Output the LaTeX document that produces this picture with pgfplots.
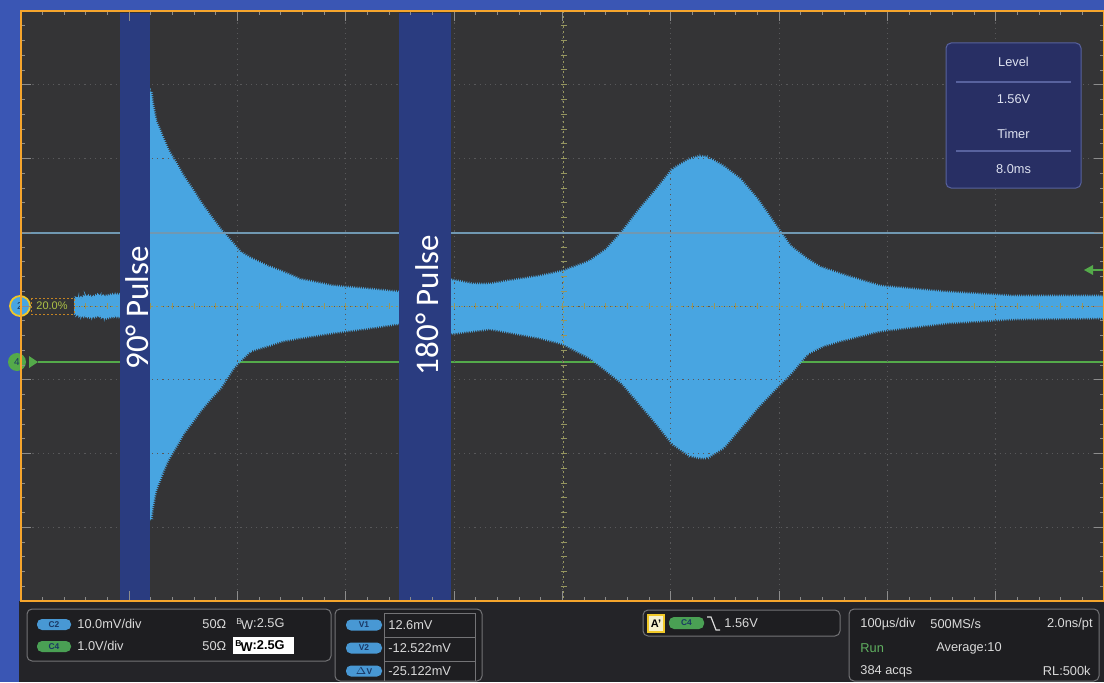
\documentclass[border=0pt]{standalone}
\usepackage{fontspec}
\setmainfont{Liberation Sans}
\newfontfamily\calibri{Carlito}
\usepackage{pgfplots}
\usepackage{pgfplotstable}
\pgfplotsset{compat=1.18}
\usepgfplotslibrary{fillbetween}
\usetikzlibrary{decorations.pathmorphing}

\definecolor{framebg}{RGB}{58,86,180}
\definecolor{statusbg}{RGB}{36,36,40}
\definecolor{screen}{RGB}{52,52,54}
\definecolor{scopeorange}{RGB}{245,165,45}
\definecolor{sig}{RGB}{72,165,225}
\definecolor{band}{RGB}{42,60,128}
\definecolor{c4green}{RGB}{84,170,74}
\definecolor{cursor}{RGB}{112,152,178}
\definecolor{gridgray}{RGB}{88,88,90}
\definecolor{tickgray}{RGB}{140,140,140}
\definecolor{centercol}{RGB}{150,150,95}
\definecolor{panelfill}{RGB}{30,30,33}
\definecolor{panelline}{RGB}{115,115,118}
\definecolor{uitext}{RGB}{218,218,218}
\definecolor{pillblue}{RGB}{72,152,212}
\definecolor{pillgreen}{RGB}{74,160,84}
\definecolor{pilltext}{RGB}{25,55,100}
\definecolor{boxnavy}{RGB}{40,47,100}
\definecolor{boxline}{RGB}{88,98,158}
\definecolor{boxtext}{RGB}{222,226,240}
\definecolor{markyellow}{RGB}{240,200,40}
\definecolor{rungreen}{RGB}{96,176,96}
\definecolor{offsettext}{RGB}{175,195,70}
\definecolor{iconfill}{RGB}{245,240,205}

% Channel 2 envelope (time in us, voltage in mV), 100 us/div, 10 mV/div
\pgfplotstableread{
t v
48 0.6
52 1.2
56 1.0
60 1.4
66 1.1
72 1.5
76 1.2
80 1.3
86 1.5
93 1.4
}\noiseU
\pgfplotstableread{
t v
48 -0.6
52 -1.2
56 -1.4
60 -1.3
66 -1.5
72 -1.2
76 -1.6
80 -1.5
86 -1.3
93 -1.4
}\noiseL
% free induction decay after the 90 degree pulse
\pgfplotstableread{
t v
117 29.3
119.1 29.3
121.0 27.2
123.7 25.2
128.3 23.5
134.8 21.2
142.2 19.4
149.6 17.5
157.9 15.7
165.3 14.0
174.5 12.1
183.8 10.3
195.8 8.3
202.2 7.2
211.5 6.4
227.1 5.3
241.9 4.5
257.6 3.5
288.1 2.6
319.5 2.2
347.2 1.8
352 1.7
}\fidU
\pgfplotstableread{
t v
117 -29.0
119.1 -29.0
121.0 -27.0
123.7 -25.0
128.3 -23.2
134.8 -20.9
142.2 -19.1
149.6 -17.2
157.9 -15.6
165.3 -14.1
174.5 -12.5
183.8 -11.0
195.8 -8.3
202.2 -7.3
211.5 -6.0
227.1 -5.3
241.9 -4.6
257.6 -4.2
288.1 -3.5
319.5 -2.9
347.2 -2.3
352 -2.3
}\fidL
% spin echo after the 180 degree pulse
\pgfplotstableread{
t v
395 3.5
417.4 2.85
433.1 2.85
448.8 3.25
479.2 3.93
500.5 4.61
525.4 5.97
541.1 7.59
555.9 10.03
571.6 13.02
587.3 15.73
602.0 18.44
617.7 19.80
627.0 20.20
633.4 20.07
648.2 18.85
663.9 17.08
679.6 14.37
694.4 11.25
710.1 8.00
725.8 6.24
737.8 5.15
762.7 3.93
793.2 2.58
855.0 1.76
916.0 1.22
1000 1.22
}\echoU
\pgfplotstableread{
t v
395 -3.66
433.1 -2.98
479.2 -4.20
500.5 -5.02
525.4 -6.92
541.1 -8.68
555.9 -10.44
571.6 -13.15
587.3 -15.86
602.0 -18.58
617.7 -20.20
627.0 -20.47
633.4 -20.47
648.2 -19.12
663.9 -16.41
679.6 -13.69
694.4 -11.39
710.1 -9.08
725.8 -6.37
740.5 -5.29
756.2 -4.61
793.2 -3.25
855.0 -2.17
916.0 -1.63
1000 -1.49
}\echoL

\newcommand{\ui}{\fontsize{6.4}{7}\selectfont}
\newcommand{\pill}{\fontsize{4.2}{5}\selectfont\bfseries}
\newcommand{\bw}{\raisebox{1.6pt}{\fontsize{4.3}{5}\selectfont B}\kern-0.5pt\raisebox{-0.9pt}{W}}

\begin{document}
\begin{tikzpicture}
% screen pixel frame: 1 px = 0.5 pt, origin top left
\begin{scope}[x=0.5pt,y=-0.5pt,yshift=341pt]
  \fill[framebg] (0,0) rectangle (1104,682);
  \fill[statusbg] (19,601) rectangle (1104,682);
  \fill[screen] (21,11) rectangle (1104,601);
  % channel 4 trace (trigger channel, flat)
  \draw[c4green, line width=1.4pt] (38,362) -- (1104,362);
\end{scope}

\begin{axis}[
  at={(10.5pt,40.5pt)}, anchor=south west,
  scale only axis, width=541.5pt, height=295pt,
  xmin=0, xmax=1000, ymin=-40, ymax=40,
  xtick={0,100,...,1000}, ytick={-40,-30,...,40},
  minor x tick num=4, minor y tick num=4,
  xticklabels={}, yticklabels={},
  tick style={tickgray, line width=0.5pt},
  major tick length=5pt, minor tick length=2pt,
  axis line style={scopeorange, line width=1.2pt},
  axis on top,
  fill between/on layer=main,
  edge/.style={sig, line width=0.5pt, decorate,
    decoration={zigzag, amplitude=0.7pt, segment length=1.1pt}},
]
  \addplot[draw=none, name path=nU] table[x=t, y=v] {\noiseU};
  \addplot[draw=none, name path=nL] table[x=t, y=v] {\noiseL};
  \addplot[fill=sig, draw=none] fill between[of=nU and nL];
  \addplot[draw=none, name path=fU] table[x=t, y=v] {\fidU};
  \addplot[draw=none, name path=fL] table[x=t, y=v] {\fidL};
  \addplot[fill=sig, draw=none] fill between[of=fU and fL];
  \addplot[draw=none, name path=eU] table[x=t, y=v] {\echoU};
  \addplot[draw=none, name path=eL] table[x=t, y=v] {\echoL};
  \addplot[fill=sig, draw=none] fill between[of=eU and eL];
  % fuzzy edges of the averaged RF envelope
  \addplot[edge] table[x=t, y=v] {\noiseU};
  \addplot[edge] table[x=t, y=v] {\noiseL};
  \addplot[edge] table[x=t, y=v] {\fidU};
  \addplot[edge] table[x=t, y=v] {\fidL};
  \addplot[edge] table[x=t, y=v] {\echoU};
  \addplot[edge] table[x=t, y=v] {\echoL};
\end{axis}

\begin{scope}[x=0.5pt,y=-0.5pt,yshift=341pt]
  % graticule, drawn over the trace
  \foreach \k in {1,...,9}
    \draw[gridgray, line width=0.5pt, dash pattern=on 0.6pt off 2pt] (21+108.3*\k,12) -- (21+108.3*\k,600);
  \foreach \k in {1,...,7}
    \draw[gridgray, line width=0.5pt, dash pattern=on 0.6pt off 2pt] (22,11+73.75*\k) -- (1104,11+73.75*\k);
  % centre cross of the graticule
  \draw[centercol, line width=0.5pt, dash pattern=on 1pt off 1.5pt] (21,306) -- (1104,306);
  \draw[centercol, line width=0.5pt, dash pattern=on 1pt off 1.5pt] (563.5,11) -- (563.5,601);
  \foreach \i in {1,...,49} \draw[centercol, line width=0.5pt] (21+21.66*\i,303) -- (21+21.66*\i,309);
  \foreach \i in {1,...,39} \draw[centercol, line width=0.5pt] (560.5,11+14.75*\i) -- (566.5,11+14.75*\i);
  % cursor V1
  \draw[cursor, line width=0.8pt] (21,233) -- (1104,233);

  % RF pulse windows
  \fill[band] (120,13) rectangle (150,600);
  \fill[band] (399,13) rectangle (451,600);
  \node[rotate=90, text=white, font=\calibri\fontsize{16.5}{18}\selectfont, inner sep=0pt] at (137,308) {90° Pulse};
  \node[rotate=90, text=white, font=\calibri\fontsize{16.5}{18}\selectfont, inner sep=0pt] at (427,305) {180° Pulse};

  % channel markers
  \draw[markyellow, fill=sig, line width=0.9pt] (20,306) circle[radius=10];
  \node[font=\fontsize{5}{6}\selectfont, text=pilltext] at (20,306) {2};
  \fill[screen] (31,298) rectangle (74,314);
  \draw[scopeorange!80!black, line width=0.5pt, dash pattern=on 1pt off 1pt] (31,298) rectangle (74,314);
  \node[font=\fontsize{5.5}{6}\selectfont, text=offsettext] at (52,306) {20.0\%};
  \fill[c4green] (17,362) circle[radius=9];
  \node[font=\fontsize{5}{6}\selectfont, text=pilltext] at (17,362) {4};
  \fill[c4green] (29,356) -- (38,362) -- (29,368) -- cycle;
  \fill[c4green] (1084,270) -- (1093,265) -- (1093,275) -- cycle;
  \draw[c4green, line width=0.9pt] (1092,270) -- (1104,270);

  % trigger level panel
  \draw[boxline, fill=boxnavy, line width=0.5pt, rounded corners=2.5pt] (946,43) rectangle (1081,188);
  \draw[boxline, line width=0.6pt] (956,82) -- (1071,82);
  \draw[boxline, line width=0.6pt] (956,151) -- (1071,151);
  \node[text=boxtext, font=\ui] at (1013.5,62) {Level};
  \node[text=boxtext, font=\ui] at (1013.5,99) {1.56V};
  \node[text=boxtext, font=\ui] at (1013.5,134) {Timer};
  \node[text=boxtext, font=\ui] at (1013.5,169) {8.0ms};

  \begin{scope}[every node/.style={inner sep=0pt}]
  % vertical settings
  \draw[panelline, fill=panelfill, line width=0.5pt, rounded corners=2.5pt] (27,609) rectangle (331,661);
  \fill[pillblue, rounded corners=2.5pt] (37,619) rectangle (71,630);
  \node[text=pilltext, font=\pill] at (54,624.5) {C2};
  \node[anchor=west, text=uitext, font=\ui] at (77,624) {10.0mV/div};
  \node[anchor=west, text=uitext, font=\ui] at (202,624) {50Ω};
  \node[anchor=west, text=uitext, font=\ui] at (236,624) {\bw:2.5G};
  \fill[pillgreen, rounded corners=2.5pt] (37,641) rectangle (71,652);
  \node[text=pilltext, font=\pill] at (54,646.5) {C4};
  \node[anchor=west, text=uitext, font=\ui] at (77,646) {1.0V/div};
  \node[anchor=west, text=uitext, font=\ui] at (202,646) {50Ω};
  \fill[white] (233,637) rectangle (294,654);
  \node[anchor=west, text=black, font=\ui\bfseries] at (235,646) {\bw:2.5G};

  % cursor readout
  \draw[panelline, fill=panelfill, line width=0.5pt, rounded corners=2.5pt] (335,609) rectangle (482,681);
  \draw[panelline, line width=0.5pt] (384,613) -- (384,681);
  \draw[panelline, line width=0.5pt] (384,613) -- (475,613) -- (475,681);
  \draw[panelline, line width=0.5pt] (384,637) -- (475,637);
  \draw[panelline, line width=0.5pt] (384,661) -- (475,661);
  \foreach \yy/\lab in {625/V1, 648/V2, 671/$\Delta$V} {
    \fill[pillblue, rounded corners=2.5pt] (346,\yy-5.5) rectangle (382,\yy+5.5);
    \node[text=pilltext, font=\pill] at (364,\yy) {\lab};
  }
  \node[anchor=west, text=uitext, font=\ui] at (388,625) {12.6mV};
  \node[anchor=west, text=uitext, font=\ui] at (388,648) {-12.522mV};
  \node[anchor=west, text=uitext, font=\ui] at (388,671) {-25.122mV};

  % trigger readout
  \draw[panelline, fill=panelfill, line width=0.5pt, rounded corners=2.5pt] (643,610) rectangle (840,636);
  \fill[iconfill] (648,615) rectangle (664,632);
  \draw[markyellow, line width=0.6pt] (648,615) rectangle (664,632);
  \node[text=black, font=\fontsize{5.5}{6}\selectfont\bfseries] at (656,623.5) {A'};
  \fill[pillgreen, rounded corners=2.5pt] (669,617) rectangle (704,629);
  \node[text=pilltext, font=\pill] at (686.5,623) {C4};
  \draw[uitext, line width=0.6pt] (707,617) -- (711,617) -- (716,630) -- (720,630);
  \node[anchor=west, text=uitext, font=\ui] at (724,623) {1.56V};

  % acquisition readout
  \draw[panelline, fill=panelfill, line width=0.5pt, rounded corners=2.5pt] (849,609) rectangle (1099,681);
  \node[anchor=west, text=uitext, font=\ui] at (860,624) {100µs/div};
  \node[anchor=west, text=uitext, font=\ui] at (930,624) {500MS/s};
  \node[anchor=east, text=uitext, font=\ui] at (1093,624) {2.0ns/pt};
  \node[anchor=west, text=rungreen, font=\ui] at (860,648) {Run};
  \node[anchor=west, text=uitext, font=\ui] at (936,648) {Average:10};
  \node[anchor=west, text=uitext, font=\ui] at (860,671) {384 acqs};
  \node[anchor=east, text=uitext, font=\ui] at (1091,671) {RL:500k};
  \end{scope}
\end{scope}

\pgfresetboundingbox
\path (0,0) rectangle (552pt,341pt);
\end{tikzpicture}
\end{document}
